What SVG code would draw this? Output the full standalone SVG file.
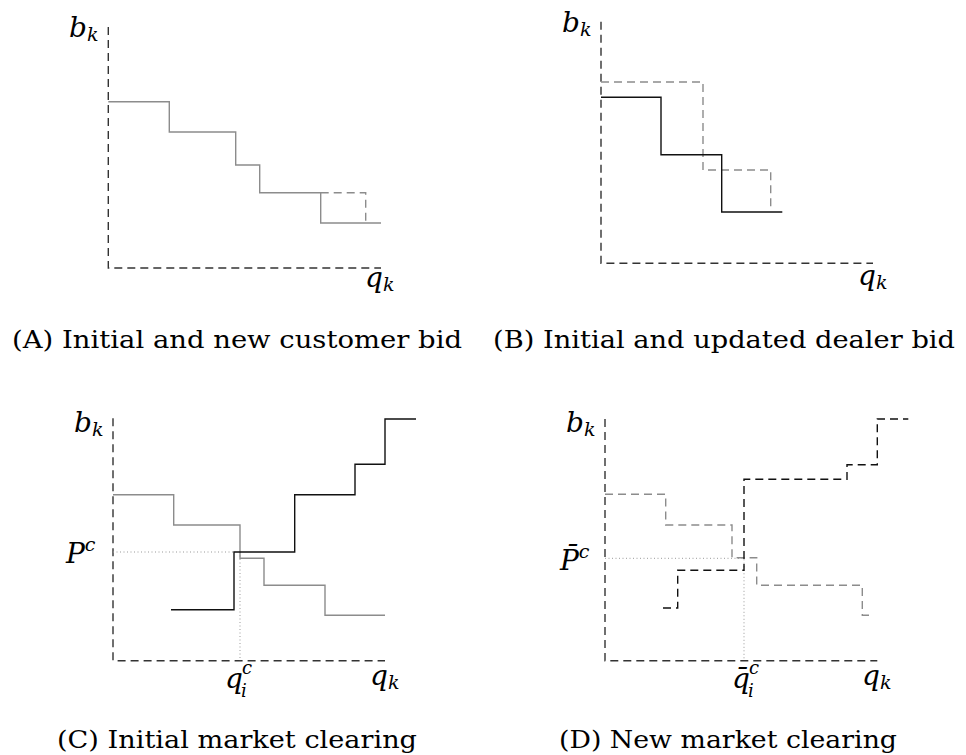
<svg xmlns="http://www.w3.org/2000/svg" width="966" height="755" viewBox="0 0 966 755">
<style>
  .axis{fill:none;stroke:#333;stroke-width:1.4;stroke-dasharray:8 5}
  .gs{fill:none;stroke:#8c8c8c;stroke-width:1.4}
  .gd{fill:none;stroke:#8c8c8c;stroke-width:1.4;stroke-dasharray:8 5}
  .bs{fill:none;stroke:#111;stroke-width:1.4}
  .bd{fill:none;stroke:#111;stroke-width:1.4;stroke-dasharray:8 5}
  .dot{fill:none;stroke:#999;stroke-width:1;stroke-dasharray:1 2.5}
  text{font-family:'DejaVu Serif',serif;fill:#000}
  .math{font-style:italic;font-size:28px}
  .sub{font-size:19px}
  .sm{font-style:italic;font-size:18px}
  .cap{font-size:25px}
</style>
<rect width="966" height="755" fill="#fff"/>

<g id="panelA">
  <path class="axis" d="M108.3,27 V268 H381"/>
  <path class="gs" d="M108.3,101.7 H169.3 V132 H235.7 V165 H259.7 V192.7 H320.7 V223 H381"/>
  <path class="gd" d="M320.7,192.7 H365.7 V223"/>
  <text class="math" x="69" y="37">b<tspan class="sub" dy="4">k</tspan></text>
  <text class="math" x="365" y="287">q<tspan class="sub" dy="4">k</tspan></text>
  <text class="cap" x="12" y="348" textLength="450" lengthAdjust="spacingAndGlyphs">(A) Initial and new customer bid</text>
</g>

<g id="panelB">
  <path class="axis" d="M601,21.7 V263.3 H873"/>
  <path class="gd" d="M601,82 H703 V170 H770.7 V211"/>
  <path class="bs" d="M601,97.3 H661 V154.7 H721.7 V212 H782.3"/>
  <text class="math" x="562" y="32">b<tspan class="sub" dy="4">k</tspan></text>
  <text class="math" x="858" y="285">q<tspan class="sub" dy="4">k</tspan></text>
  <text class="cap" x="493" y="348" textLength="462" lengthAdjust="spacingAndGlyphs">(B) Initial and updated dealer bid</text>
</g>

<g id="panelC">
  <path class="axis" d="M113,418.3 V660.7 H385"/>
  <path class="dot" d="M113,552 H234 M240,552 V660.7"/>
  <path class="gs" d="M113,494.7 H173.7 V525 H240 V558.3 H264 V585.3 H325 V615.3 H385"/>
  <path class="bs" d="M171,609.7 H234 V552 H294.7 V494.7 H355 V464.3 H385 V419 H416"/>
  <text class="math" x="74" y="432">b<tspan class="sub" dy="4">k</tspan></text>
  <text class="math" x="66" y="563">P<tspan class="sub" dy="-12">c</tspan></text>
  <text class="math" x="225" y="688">q</text>
  <text class="sm" x="242" y="674">c</text>
  <text class="sm" x="241" y="697">i</text>
  <text class="math" x="370" y="685">q<tspan class="sub" dy="4">k</tspan></text>
  <text class="cap" x="57" y="748" textLength="360" lengthAdjust="spacingAndGlyphs">(C) Initial market clearing</text>
</g>

<g id="panelD">
  <path class="axis" d="M605,419 V660.7 H877.3"/>
  <path class="dot" d="M605,558.3 H744 V660.7"/>
  <path class="gd" d="M605,494.3 H665.7 V525 H732 V557.7 H756.7 V585.3 H862.3 V615.3 H870"/>
  <path class="bd" d="M663,608 H677.7 V570.3 H744 V479.3 H847 V464.7 H877.3 V419 H908.3"/>
  <text class="math" x="566" y="432">b<tspan class="sub" dy="4">k</tspan></text>
  <text class="math" x="560" y="570">P̄<tspan class="sub" dy="-12">c</tspan></text>
  <text class="math" x="732" y="688">q̄</text>
  <text class="sm" x="749" y="674">c</text>
  <text class="sm" x="748" y="697">i</text>
  <text class="math" x="862" y="685">q<tspan class="sub" dy="4">k</tspan></text>
  <text class="cap" x="559" y="748" textLength="338" lengthAdjust="spacingAndGlyphs">(D) New market clearing</text>
</g>
</svg>
